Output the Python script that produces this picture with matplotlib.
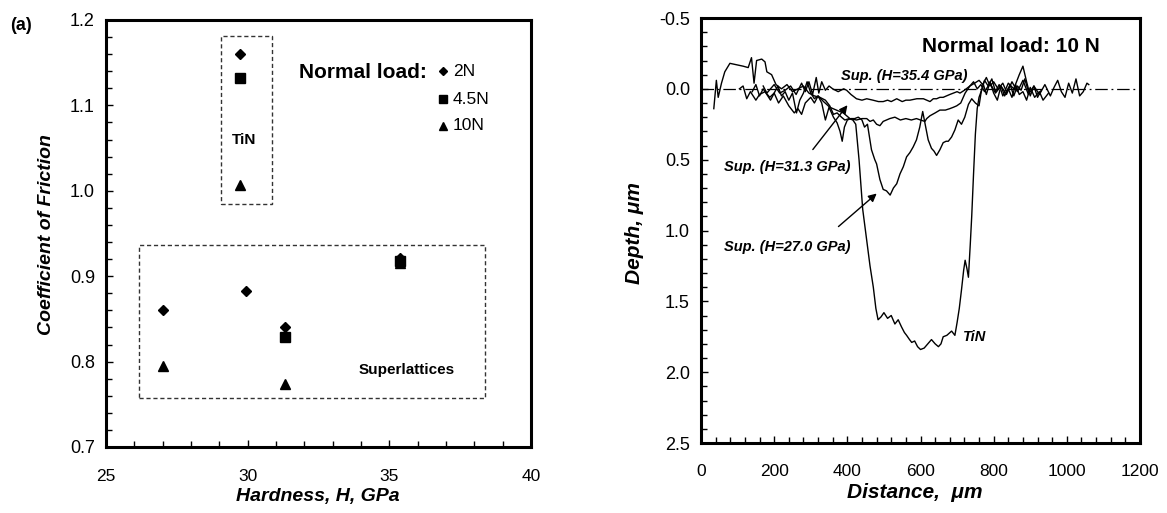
import matplotlib
matplotlib.use("Agg")
import matplotlib.pyplot as plt
from matplotlib.ticker import MultipleLocator, FormatStrFormatter
from matplotlib.patches import Rectangle

plt.rcParams['font.family'] = ['Liberation Sans', 'DejaVu Sans']

# ---------------- Panel (a) data ----------------
hard_2N = [29.73, 27.0, 29.94, 31.3, 35.38]
cof_2N = [1.160, 0.861, 0.883, 0.840, 0.921]
hard_45N = [29.73, 31.3, 35.38]
cof_45N = [1.132, 0.829, 0.918]
hard_10N = [29.73, 27.0, 31.3, 35.38]
cof_10N = [1.007, 0.795, 0.774, 0.915]

# ---------------- Panel (b) data ----------------
tin_x = [35, 42, 47, 56, 65, 79, 97, 115, 129, 138, 145, 152, 166, 175, 180, 193, 205, 220, 235, 250,
         265, 280, 295, 310, 325, 340, 352, 362, 372, 384, 393, 405, 415, 423, 432, 442, 452, 462, 471, 478,
         484, 492, 500, 510, 520, 530, 539, 548, 556, 562, 570, 576, 584, 592, 600, 610, 620, 630, 640, 649,
         656, 662, 672, 685, 694, 700, 706, 712, 718, 722, 727, 731, 736, 740, 745, 750, 755, 760, 767, 775,
         785, 795, 805, 815, 825, 840, 855, 870, 880, 890, 900, 910, 925, 940, 955, 965, 975, 985, 995, 1005,
         1015, 1025, 1035, 1045, 1055, 1060]
tin_d = [0.14, -0.06, 0.06, -0.04, -0.12, -0.18, -0.17, -0.16, -0.15, -0.22, -0.04, -0.20, -0.21, -0.19, -0.12, -0.10, -0.03, 0.00, -0.03, 0.02,
         0.00, -0.02, 0.03, 0.05, 0.06, 0.08, 0.12, 0.18, 0.17, 0.20, 0.22, 0.21, 0.22, 0.25, 0.50, 0.85, 1.05, 1.25, 1.40, 1.55,
         1.63, 1.61, 1.58, 1.62, 1.60, 1.66, 1.63, 1.68, 1.72, 1.74, 1.77, 1.79, 1.78, 1.82, 1.84, 1.83, 1.80, 1.77, 1.80, 1.82,
         1.80, 1.75, 1.74, 1.71, 1.74, 1.65, 1.55, 1.42, 1.28, 1.21, 1.27, 1.33, 1.10, 0.90, 0.60, 0.32, 0.14, 0.06, 0.01, -0.06,
         -0.02, -0.07, 0.02, -0.03, 0.05, -0.04, 0.00, -0.10, -0.16, -0.05, 0.05, -0.02, 0.04, -0.03, 0.05, -0.01, -0.06, 0.02, 0.06, -0.04,
         0.03, -0.07, 0.05, 0.02, -0.04, -0.03]

s270_x = [105, 115, 125, 135, 150, 160, 175, 188, 200, 212, 225, 240, 255, 265, 275, 285, 300, 310, 320, 330,
          340, 350, 362, 372, 380, 386, 392, 400, 410, 420, 430, 440, 447, 455, 466, 475, 480, 489, 498, 507,
          517, 526, 535, 544, 553, 562, 571, 580, 589, 598, 606, 612, 621, 630, 637, 644, 653, 662, 670, 676,
          685, 694, 703, 712, 721, 731, 740, 750, 760, 766, 772, 780, 790, 800, 810, 820, 830, 840, 850, 860,
          870, 880, 890, 900, 912, 925, 935, 950]
s270_d = [0.00, -0.02, 0.07, 0.02, 0.08, 0.04, 0.02, 0.06, 0.03, 0.10, 0.05, 0.12, 0.17, 0.14, 0.18, 0.10, 0.06, 0.10, 0.05, 0.10,
          0.22, 0.13, 0.20, 0.24, 0.30, 0.37, 0.27, 0.22, 0.21, 0.21, 0.20, 0.22, 0.27, 0.25, 0.43, 0.50, 0.53, 0.64, 0.71, 0.72,
          0.75, 0.70, 0.67, 0.60, 0.55, 0.48, 0.45, 0.41, 0.36, 0.27, 0.16, 0.24, 0.36, 0.42, 0.44, 0.47, 0.43, 0.38, 0.37, 0.37,
          0.34, 0.29, 0.22, 0.25, 0.20, 0.11, 0.07, 0.10, 0.12, 0.02, -0.03, 0.04, -0.05, 0.03, 0.08, -0.02, 0.05, 0.00, 0.06, -0.03,
          0.04, 0.02, 0.08, -0.01, 0.06, 0.02, 0.08, 0.03]

s313_x = [140, 150, 160, 170, 180, 190, 200, 210, 220, 230, 240, 250, 261, 270, 280, 290, 300, 310, 320, 335,
          352, 370, 389, 407, 425, 440, 453, 462, 471, 480, 489, 498, 507, 516, 530, 545, 560, 575, 589, 600,
          612, 617, 626, 640, 653, 668, 680, 690, 699, 710, 722, 735, 745, 755, 765, 775, 790, 805, 820, 835,
          850, 865, 880, 895, 910, 920, 930]
s313_d = [0.02, -0.03, 0.05, 0.00, 0.04, 0.08, 0.03, -0.02, 0.05, 0.02, 0.08, 0.03, 0.17, 0.08, 0.03, -0.05, 0.03, 0.07, 0.05, 0.09,
          0.13, 0.15, 0.17, 0.21, 0.22, 0.21, 0.21, 0.23, 0.22, 0.25, 0.26, 0.23, 0.22, 0.21, 0.20, 0.22, 0.21, 0.22, 0.21, 0.22,
          0.23, 0.21, 0.19, 0.17, 0.15, 0.15, 0.14, 0.13, 0.12, 0.10, 0.03, -0.02, -0.05, 0.00, -0.03, 0.02, -0.04, 0.03, -0.02, 0.04,
          -0.05, 0.02, -0.06, 0.04, -0.02, 0.06, 0.01]

s354_x = [170, 180, 190, 200, 215, 230, 245, 260, 275, 285, 295, 305, 315, 322, 330, 340, 350, 360, 375, 390,
          398, 410, 425, 440, 453, 470, 485, 498, 510, 520, 535, 550, 560, 571, 590, 608, 617, 626, 635, 644,
          653, 662, 671, 680, 690, 700, 708, 720, 735, 748, 760, 770, 780, 790, 800, 812, 825, 835, 845, 855,
          865, 875, 885, 895, 900]
s354_d = [-0.02, 0.03, 0.00, -0.03, 0.03, 0.01, -0.02, 0.04, -0.04, 0.02, -0.05, 0.04, -0.08, 0.03, -0.05, 0.01, -0.02, 0.00, 0.02, 0.00,
          0.01, 0.04, 0.07, 0.08, 0.07, 0.08, 0.09, 0.09, 0.08, 0.09, 0.07, 0.09, 0.08, 0.08, 0.07, 0.07, 0.08, 0.09, 0.07, 0.07,
          0.06, 0.06, 0.05, 0.04, 0.03, 0.02, 0.03, 0.01, -0.02, -0.04, -0.06, -0.03, -0.08, -0.02, -0.05, 0.00, -0.04, 0.02, -0.03, 0.05,
          -0.02, 0.01, -0.07, 0.02, 0.00]

W, H = 1167, 513
fig = plt.figure(figsize=(W/100, H/100), dpi=100)

# ---------------- Panel (a) ----------------
ax1 = fig.add_axes([106/W, 1-447/H, 425/W, 427/H])
ax1.plot(hard_2N, cof_2N, 'D', color='black', ms=5.5, ls='none')
ax1.plot(hard_45N, cof_45N, 's', color='black', ms=6.5, ls='none')
ax1.plot(hard_10N, cof_10N, '^', color='black', ms=7, ls='none')
ax1.set_xlim(25, 40)
ax1.set_ylim(0.7, 1.2)
ax1.xaxis.set_major_locator(MultipleLocator(5))
ax1.xaxis.set_minor_locator(MultipleLocator(1))
ax1.yaxis.set_major_locator(MultipleLocator(0.1))
ax1.yaxis.set_minor_locator(MultipleLocator(0.02))
ax1.yaxis.set_major_formatter(FormatStrFormatter('%.1f'))
ax1.xaxis.set_major_formatter(FormatStrFormatter('%d'))
ax1.tick_params(which='both', direction='in', top=False, right=False, width=1)
ax1.tick_params(which='major', length=5)
ax1.tick_params(which='minor', length=4)
ax1.tick_params(axis='x', which='major', labelsize=12.5, pad=16)
ax1.tick_params(axis='y', which='major', labelsize=13, pad=8)
for sp in ax1.spines.values():
    sp.set_linewidth(2.2)
ax1.add_patch(Rectangle((29.05, 0.984), 1.8, 0.197, fill=False, ls=(0, (3, 2)), lw=1, color='#333333'))
ax1.add_patch(Rectangle((26.16, 0.757), 12.22, 0.179, fill=False, ls=(0, (3, 2)), lw=1, color='#333333'))
ax1.text(29.87, 1.059, 'TiN', fontsize=11, fontweight='bold', ha='center', va='center')
ax1.text(35.6, 0.790, 'Superlattices', fontsize=11, fontweight='bold', ha='center', va='center')
ax1.text(36.33, 1.138, 'Normal load:', fontsize=15, fontweight='bold', ha='right', va='center')
leg_y = [1.140, 1.107, 1.076]
ax1.plot([36.9], [leg_y[0]], 'D', color='black', ms=4.5)
ax1.plot([36.9], [leg_y[1]], 's', color='black', ms=6)
ax1.plot([36.9], [leg_y[2]], '^', color='black', ms=6)
for yy, lab in zip(leg_y, ['2N', '4.5N', '10N']):
    ax1.text(37.25, yy, lab, fontsize=12.5, ha='left', va='center')
fig.text(318/W, 1-497/H, 'Hardness, H, GPa', fontsize=14, fontweight='bold', style='italic', ha='center', va='center')
fig.text(47/W, 1-235/H, 'Coefficient of Friction', fontsize=14, fontweight='bold', style='italic',
         ha='center', va='center', rotation=90)
fig.text(10/W, 1-25/H, '(a)', fontsize=13, fontweight='bold', ha='left', va='center')

# ---------------- Panel (b) ----------------
ax2 = fig.add_axes([701/W, 1-443/H, 439/W, 425/H])
ax2.axhline(0, color='black', lw=0.9, ls=(0, (10, 3, 1.5, 3)))
for xs, ds in [(tin_x, tin_d), (s270_x, s270_d), (s313_x, s313_d), (s354_x, s354_d)]:
    ax2.plot(xs, ds, color='black', lw=1)
ax2.set_xlim(0, 1200)
ax2.set_ylim(2.5, -0.5)
ax2.xaxis.set_major_locator(MultipleLocator(200))
ax2.xaxis.set_minor_locator(MultipleLocator(40))
ax2.yaxis.set_major_locator(MultipleLocator(0.5))
ax2.yaxis.set_minor_locator(MultipleLocator(0.1))
ax2.yaxis.set_major_formatter(FormatStrFormatter('%.1f'))
ax2.tick_params(which='both', direction='in', top=False, right=False, width=1)
ax2.tick_params(which='major', length=5)
ax2.tick_params(which='minor', length=4)
ax2.tick_params(axis='x', which='major', labelsize=12.5, pad=15)
ax2.tick_params(axis='y', which='major', labelsize=13, pad=8)
for sp in ax2.spines.values():
    sp.set_linewidth(2.2)
ax2.text(1090, -0.30, 'Normal load: 10 N', fontsize=15, fontweight='bold', ha='right', va='center')
ax2.text(383, -0.09, 'Sup. (H=35.4 GPa)', fontsize=10.5, fontweight='bold', style='italic', ha='left', va='center')
ax2.text(64, 0.55, 'Sup. (H=31.3 GPa)', fontsize=10.5, fontweight='bold', style='italic', ha='left', va='center')
ax2.text(64, 1.114, 'Sup. (H=27.0 GPa)', fontsize=10.5, fontweight='bold', style='italic', ha='left', va='center')
ax2.text(716, 1.75, 'TiN', fontsize=10.5, fontweight='bold', style='italic', ha='left', va='center')
arrow = dict(arrowstyle='-|>', color='black', lw=1, mutation_scale=12)
ax2.annotate('', xy=(405, 0.10), xytext=(301, 0.444), arrowprops=arrow)
ax2.annotate('', xy=(486, 0.726), xytext=(370, 0.985), arrowprops=arrow)
fig.text(915/W, 1-493/H, 'Distance,  μm', fontsize=15, fontweight='bold', style='italic', ha='center', va='center')
fig.text(634/W, 1-233/H, 'Depth, μm', fontsize=15, fontweight='bold', style='italic',
         ha='center', va='center', rotation=90)

fig.savefig('out.png', dpi=100)
